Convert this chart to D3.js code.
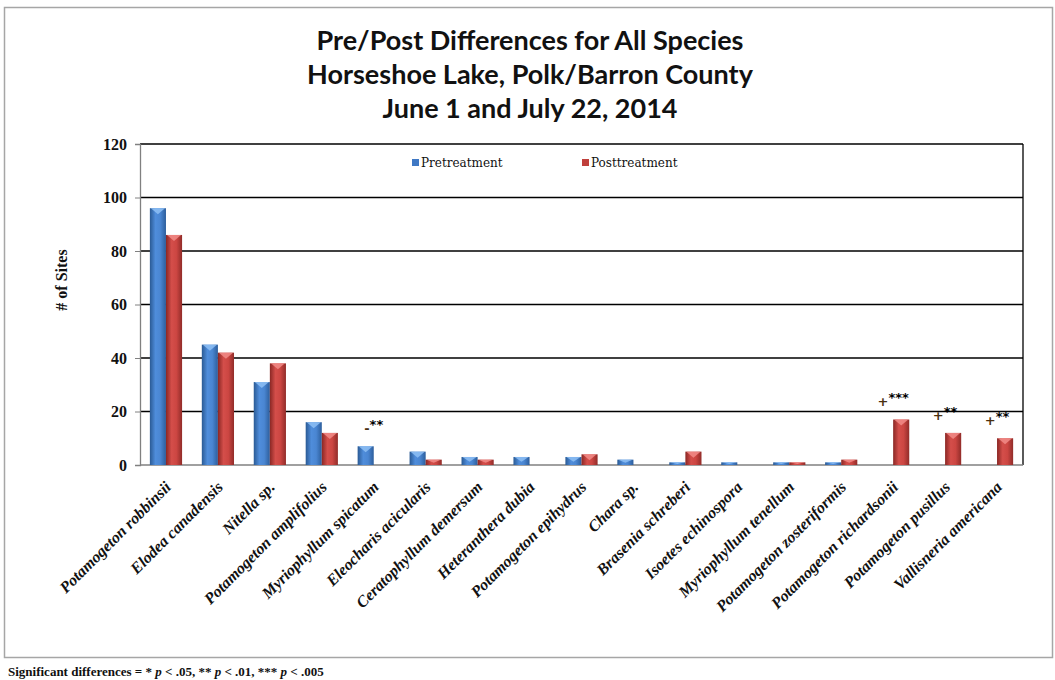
<!DOCTYPE html>
<html>
<head>
<meta charset="utf-8">
<script src="https://cdn.jsdelivr.net/npm/d3@7"></script>
<style>
  body { margin: 0; background: #fff; }
  svg { display: block; }
</style>
</head>
<body>
<div id="viz"></div>
<script>
// chart data
const species = [
    "Potamogeton robbinsii", "Elodea canadensis", "Nitella sp.", "Potamogeton amplifolius",
    "Myriophyllum spicatum", "Eleocharis acicularis", "Ceratophyllum demersum", "Heteranthera dubia",
    "Potamogeton epihydrus", "Chara sp.", "Brasenia schreberi", "Isoetes echinospora",
    "Myriophyllum tenellum", "Potamogeton zosteriformis", "Potamogeton richardsonii",
    "Potamogeton pusillus", "Vallisneria americana"
];
const pre  = [96, 45, 31, 16, 7, 5, 3, 3, 3, 2, 1, 1, 1, 1, 0, 0, 0];
const post = [86, 42, 38, 12, 0, 2, 2, 0, 4, 0, 5, 0, 1, 2, 17, 12, 10];
// significance signs and stars
const signs = ["", "", "", "", "-", "", "", "", "", "", "", "", "", "", "+", "+", "+"];
const stars = ["", "", "", "", "**", "", "", "", "", "", "", "", "", "", "***", "**", "**"];
const yTicks = [0, 20, 40, 60, 80, 100, 120];
const seriesNames = ["Pretreatment", "Posttreatment"];
const titleLines = [
    "Pre/Post Differences for All Species",
    "Horseshoe Lake, Polk/Barron County",
    "June 1 and July 22, 2014"
];

const W = 1055, H = 680;
const margin = { top: 144, right: 32, bottom: 215, left: 140 };
const width = W - margin.left - margin.right;
const height = H - margin.top - margin.bottom;

const root = d3.select("#viz")
    .append("svg")
    .attr("width", W)
    .attr("height", H);

// gradients for the bevelled bars
const defs = root.append("defs");
function grad(id, stops) {
    const g = defs.append("linearGradient").attr("id", id)
        .attr("x1", "0%").attr("x2", "100%").attr("y1", "0%").attr("y2", "0%");
    stops.forEach(s => g.append("stop").attr("offset", s[0]).attr("stop-color", s[1]));
}
grad("gBlue", [["0%", "#2a5a94"], ["35%", "#4f8ddb"], ["65%", "#4a86d2"], ["100%", "#2d5e9c"]]);
grad("gRed", [["0%", "#8a2724"], ["35%", "#d44e4a"], ["65%", "#cc4642"], ["100%", "#912c29"]]);

// outer border
root.append("rect")
    .attr("x", 4.5).attr("y", 7.5)
    .attr("width", 1048).attr("height", 650)
    .attr("fill", "none")
    .attr("stroke", "#a6a6a6")
    .attr("stroke-width", 1.5);

// title
root.selectAll("text.title")
    .data(titleLines)
    .enter()
    .append("text")
    .attr("class", "title")
    .attr("x", 530)
    .attr("y", (d, i) => 50 + i * 34)
    .attr("text-anchor", "middle")
    .style("font-family", "Lato, 'Open Sans', sans-serif")
    .style("font-weight", "bold")
    .style("font-size", "27px")
    .style("fill", "#111")
    .text(d => d);

const svg = root.append("g")
    .attr("transform", `translate(${margin.left},${margin.top})`);

const x = d3.scaleBand()
    .domain(species)
    .range([0, width]);

const x1 = d3.scaleBand()
    .domain(seriesNames)
    .range([x.bandwidth() * 0.19, x.bandwidth() * 0.81]);

const y = d3.scaleLinear()
    .domain([0, 120])
    .range([height, 0]);

// gridlines
svg.selectAll("line.grid")
    .data(yTicks.slice(1))
    .enter()
    .append("line")
    .attr("class", "grid")
    .attr("x1", 0).attr("x2", width)
    .attr("y1", d => y(d)).attr("y2", d => y(d))
    .attr("stroke", "#000")
    .attr("stroke-width", 1.3);

// right frame line
svg.append("line")
    .attr("x1", width).attr("x2", width)
    .attr("y1", 0).attr("y2", height)
    .attr("stroke", "#000")
    .attr("stroke-width", 1.3);

// y axis
const yAxis = svg.append("g")
    .call(d3.axisLeft(y).tickValues(yTicks).tickSize(5).tickPadding(8));
yAxis.select(".domain").attr("stroke", "#808080").attr("stroke-width", 1.3);
yAxis.selectAll(".tick line").attr("stroke", "#808080");
yAxis.selectAll("text")
    .style("font-family", "'Liberation Serif', 'Times New Roman', serif")
    .style("font-weight", "bold")
    .style("font-size", "16px")
    .style("fill", "#111");

// x axis line
svg.append("line")
    .attr("x1", 0).attr("x2", width)
    .attr("y1", height).attr("y2", height)
    .attr("stroke", "#808080")
    .attr("stroke-width", 1.3);

// bars
const rows = species.map((s, i) => ({ s, i, vals: [pre[i], post[i]] }));
const groups = svg.selectAll("g.cat")
    .data(rows)
    .enter()
    .append("g")
    .attr("class", "cat")
    .attr("transform", d => `translate(${x(d.s)},0)`);

const bars = groups.selectAll("g.bar")
    .data(d => d.vals.map((v, k) => ({ v, k })).filter(b => b.v > 0))
    .enter()
    .append("g")
    .attr("class", "bar");

bars.append("rect")
    .attr("x", d => x1(seriesNames[d.k]))
    .attr("y", d => y(d.v))
    .attr("width", x1.bandwidth())
    .attr("height", d => height - y(d.v))
    .attr("fill", d => d.k === 0 ? "url(#gBlue)" : "url(#gRed)");

// light bevel on the bar tops
bars.append("path")
    .attr("d", d => {
        const bx = x1(seriesNames[d.k]), bw = x1.bandwidth(), by = y(d.v);
        const h = Math.min(6, (height - by) * 0.6);
        return `M${bx + 1},${by}L${bx + bw - 1},${by}L${bx + bw / 2},${by + h}Z`;
    })
    .attr("fill", d => d.k === 0 ? "#8ec0f5" : "#f28c88")
    .attr("opacity", 0.85);

// significance marks
const sig = groups.filter(d => stars[d.i] !== "")
    .append("text")
    .attr("x", x.bandwidth() / 2)
    .attr("y", d => y(Math.max(pre[d.i], post[d.i]) + 5))
    .attr("text-anchor", "middle")
    .style("font-family", "'DejaVu Sans', sans-serif")
    .style("font-weight", "bold")
    .style("fill", "#111");
sig.append("tspan")
    .style("font-size", "13px")
    .style("fill", "#4a3010")
    .text(d => signs[d.i]);
sig.append("tspan")
    .attr("dy", -4)
    .style("font-size", "13px")
    .style("fill", "#000")
    .text(d => stars[d.i]);

// category labels
svg.selectAll("text.xlab")
    .data(species)
    .enter()
    .append("text")
    .attr("class", "xlab")
    .attr("text-anchor", "end")
    .attr("transform", d => `translate(${x(d) + x.bandwidth() / 2 + 6},${height + 23}) rotate(-45)`)
    .style("font-family", "'Liberation Serif', 'Times New Roman', serif")
    .style("font-weight", "bold")
    .style("font-style", "italic")
    .style("font-size", "16px")
    .style("fill", "#111")
    .text(d => d);

// y axis title
root.append("text")
    .attr("transform", "translate(67,280) rotate(-90)")
    .attr("text-anchor", "middle")
    .style("font-family", "'Liberation Serif', 'Times New Roman', serif")
    .style("font-weight", "bold")
    .style("font-size", "16px")
    .style("fill", "#111")
    .text("# of Sites");

// legend
const legendX = [412, 582];
const legend = root.selectAll("g.legend")
    .data(seriesNames)
    .enter()
    .append("g")
    .attr("class", "legend")
    .attr("transform", (d, i) => `translate(${legendX[i]},163)`);
legend.append("rect")
    .attr("x", 0).attr("y", -4)
    .attr("width", 7).attr("height", 7)
    .attr("fill", (d, i) => i === 0 ? "#3f78c4" : "#c0403c");
legend.append("text")
    .attr("x", 9).attr("y", 4)
    .style("font-family", "'DejaVu Serif', 'Liberation Serif', serif")
    .style("font-size", "12px")
    .style("fill", "#111")
    .text(d => d);

// footnote
const foot = root.append("text")
    .attr("x", 8).attr("y", 676)
    .style("font-family", "'Liberation Serif', 'Times New Roman', serif")
    .style("font-weight", "bold")
    .style("font-size", "13px")
    .style("fill", "#111");
[["Significant differences = * ", false], ["p", true], [" < .05, ** ", false], ["p", true],
 [" < .01, *** ", false], ["p", true], [" < .005", false]].forEach(p => {
    foot.append("tspan").style("font-style", p[1] ? "italic" : "normal").text(p[0]);
});
</script>
</body>
</html>
